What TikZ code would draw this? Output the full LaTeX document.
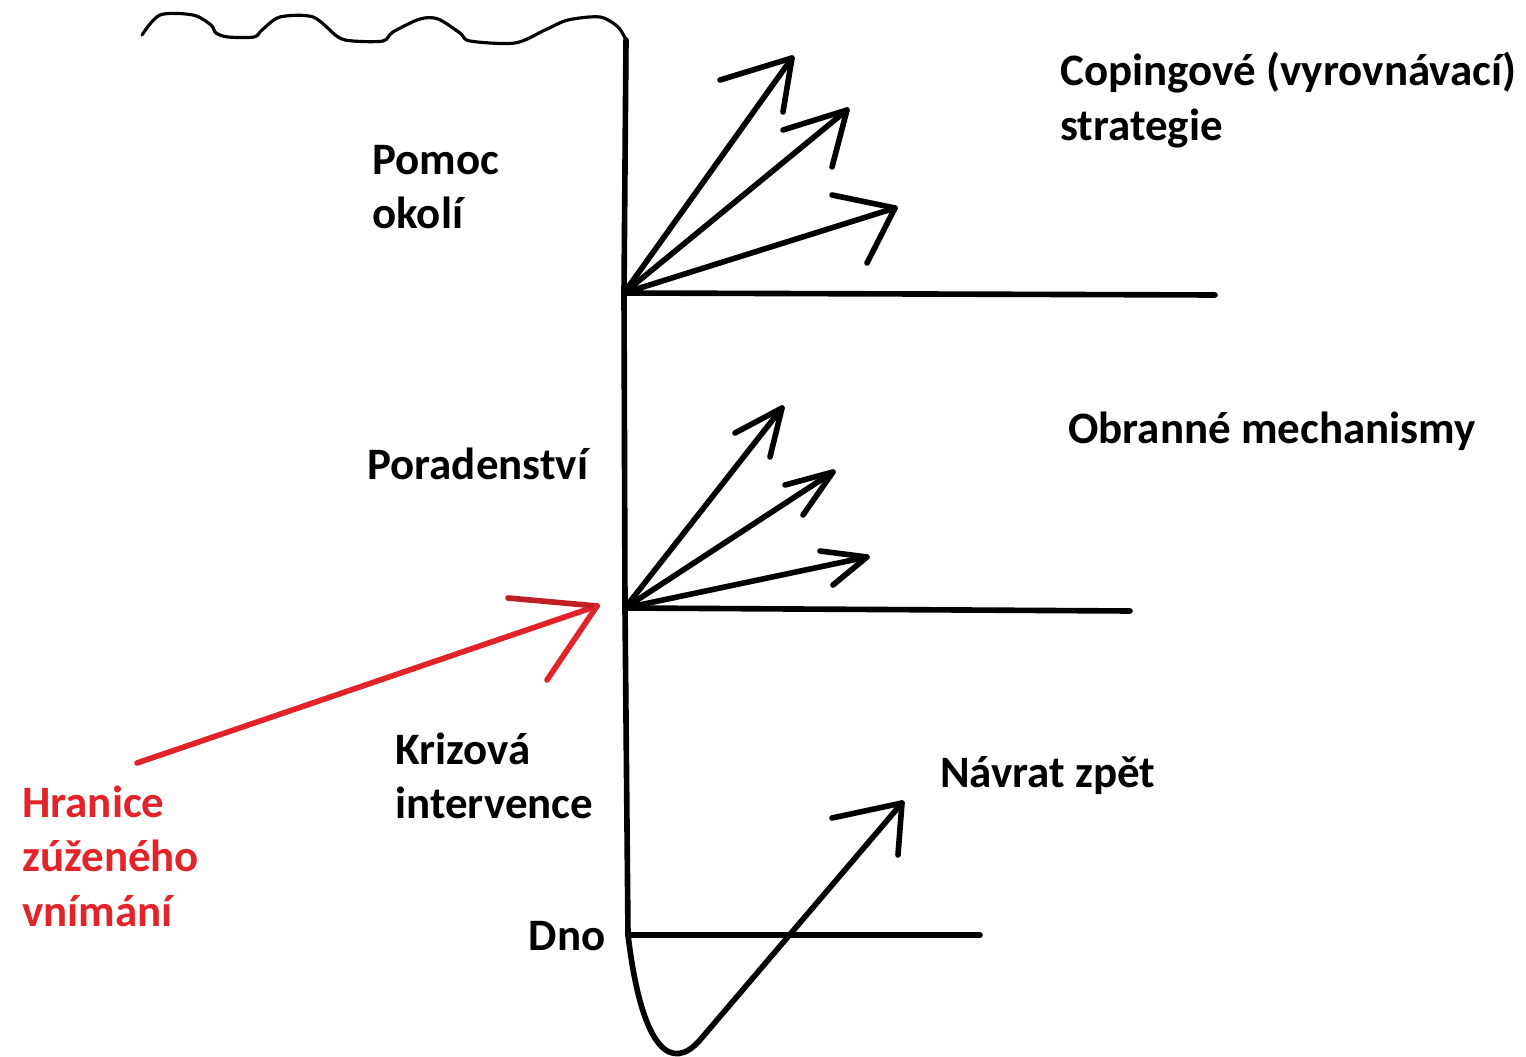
\documentclass[tikz,border=0pt]{standalone}
\usepackage{fontspec}
\setmainfont{Carlito}
\usetikzlibrary{calc}
\definecolor{hranice}{RGB}{226,36,42}
\tikzset{
  pero/.style={line width=3.2pt, line cap=round, line join=round},
  popis/.style={font=\bfseries\fontsize{25.6}{31}\selectfont, align=left, inner sep=0pt, anchor=west},
}

\begin{document}
\begin{tikzpicture}[x=0.02cm,y=-0.02cm]
    \useasboundingbox (0,0) rectangle (1526,1057);
    % body na ose
    \coordinate (Hladina) at (626,40);
    \coordinate (Pomoc) at (624,293);
    \coordinate (Porad) at (625,608);
    \coordinate (Dno) at (628,935);
    \coordinate (PomocKonec) at (1215,295);
    \coordinate (PoradKonec) at (1130,611);
    \coordinate (DnoKonec) at (980,935);
    % hroty sipek
    \coordinate (A1) at (792,58);
    \coordinate (A2) at (847,110);
    \coordinate (A3) at (895,208);
    \coordinate (B1) at (782,408);
    \coordinate (B2) at (833,472);
    \coordinate (B3) at (867,557);
    \coordinate (Navrat) at (902,803);
    \coordinate (HraniceStart) at (137,763);
    \coordinate (HraniceHrot) at (597,606);
    % hladina
    \draw [line width=1.8pt, line cap=round] plot[smooth, tension=0.5] coordinates {
      (142,35) (160,15) (193,15) (211,25) (216,33) (228,37) (254,37) (262,30) (280,17)
      (313,17) (338,37) (353,41) (383,41) (393,32) (420,19) (438,19) (460,33) (470,41)
      (515,43) (545,30) (568,20) (600,17) (618,27) (626,40)};
    % osa a hladiny
    \draw [pero] (Hladina)--(Pomoc)--(Porad)--(Dno);
    \draw [pero] (Pomoc)--(PomocKonec);
    \draw [pero] (Porad)--(PoradKonec);
    \draw [pero] (Dno)--(DnoKonec);
    % copingove strategie
    \draw [pero] (Pomoc)--(A1);
    \draw [pero] ($(A1)+(-72,22)$)--(A1)--++(-9,54);
    \draw [pero] (Pomoc)--(A2);
    \draw [pero] ($(A2)+(-64,20)$)--(A2)--++(-15,57);
    \draw [pero] (Pomoc)--(A3);
    \draw [pero] ($(A3)+(-63,-13)$)--(A3)--++(-28,55);
    % obranne mechanismy
    \draw [pero] (Porad)--(B1);
    \draw [pero] ($(B1)+(-47,25)$)--(B1)--++(-12,49);
    \draw [pero] (Porad)--(B2);
    \draw [pero] ($(B2)+(-48,13)$)--(B2)--++(-30,43);
    \draw [pero] (Porad)--(B3);
    \draw [pero] ($(B3)+(-47,-6)$)--(B3)--++(-34,28);
    % navrat zpet
    \draw [pero] (Dno) .. controls (642,1052) and (672,1072) .. (700,1040)--(Navrat);
    \draw [pero] ($(Navrat)+(-70,15)$)--(Navrat)--++(-4,52);
    % hranice zuzeneho vnimani
    \draw [pero, color=hranice] (HraniceStart)--(HraniceHrot);
    \draw [pero, color=hranice!85!black] ($(HraniceHrot)+(-89,-8)$)--(HraniceHrot);
    \draw [pero, color=hranice] (HraniceHrot)--++(-50,74);
    % popisky
    \node[popis] (pomoc) at (372,187) {Pomoc\\okolí};
    \node[popis] (coping) at (1060,100) {Copingové (vyrovnávací)\\strategie};
    \node[popis] (poradenstvi) at (367,464) {Poradenství};
    \node[popis] (obranne) at (1068,431) {Obranné mechanismy};
    \node[popis] (krize) at (395,776) {Krizová\\intervence};
    \node[popis] (navrat) at (940,776) {Návrat zpět};
    \node[popis, text=hranice] (hranice) at (22,856) {Hranice\\zúženého\\vnímání};
    \node[popis, anchor=east] (dno) at (606,936) {Dno};
\end{tikzpicture}
\end{document}
